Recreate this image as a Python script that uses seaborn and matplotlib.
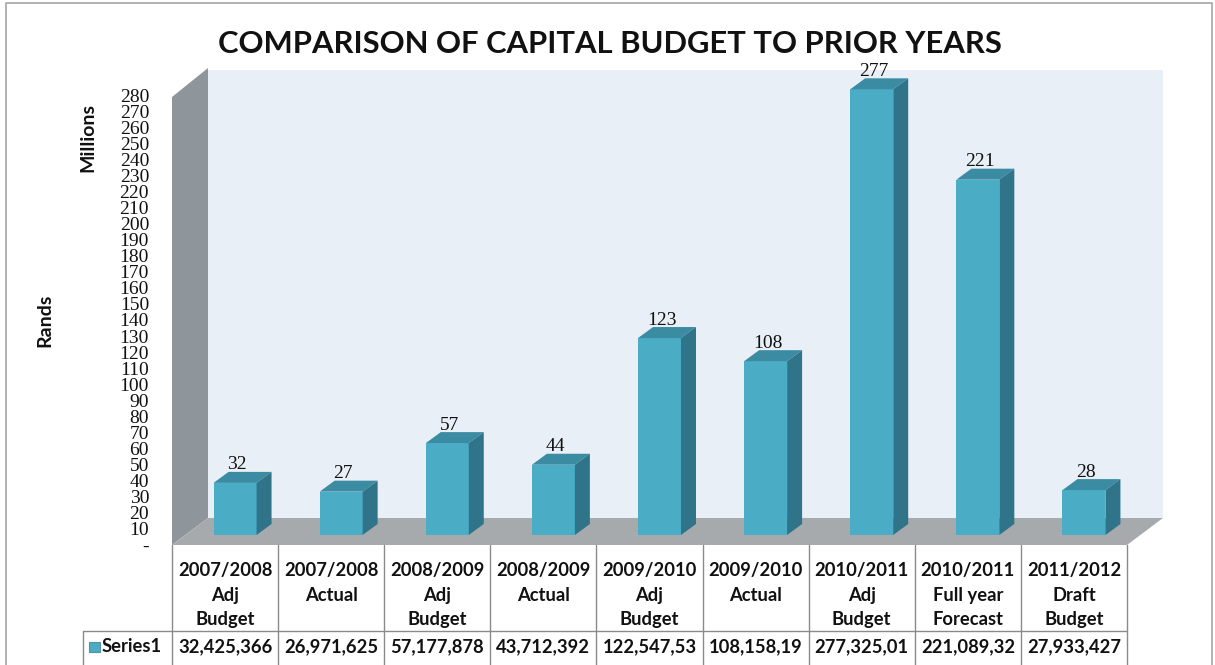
import matplotlib
matplotlib.use("Agg")
import matplotlib.pyplot as plt
from matplotlib.patches import Polygon, Rectangle
from matplotlib.transforms import IdentityTransform
import pandas as pd
import seaborn as sns

# ---- data -------------------------------------------------------------
categories = [
    "2007/2008\nAdj\nBudget", "2007/2008\nActual", "2008/2009\nAdj\nBudget",
    "2008/2009\nActual", "2009/2010\nAdj\nBudget", "2009/2010\nActual",
    "2010/2011\nAdj\nBudget", "2010/2011\nFull year\nForecast",
    "2011/2012\nDraft\nBudget",
]
capital_millions = [32.425366, 26.971625, 57.177878, 43.712392, 122.54753,
                    108.15819, 277.32501, 221.08932, 27.933427]
table_values = ["32,425,366", "26,971,625", "57,177,878", "43,712,392",
                "122,547,53", "108,158,19", "277,325,01", "221,089,32",
                "27,933,427"]
series_name = "Series1"
y_ticks = list(range(0, 290, 10))
y_tick_labels = ["-"] + [str(t) for t in y_ticks[1:]]
title = "COMPARISON OF CAPITAL BUDGET TO PRIOR YEARS"

# ---- style ------------------------------------------------------------
sns.set_theme(style="white")
plt.rcParams["font.family"] = ["Lato", "DejaVu Sans"]

FRONT = "#4BACC6"
TOP = "#3B8CA3"
SIDE = "#2F7489"
BACK_WALL = "#E9EFF7"
SIDE_WALL = "#8E969B"
FLOOR = "#A7AAAD"
GRID = "#8A8A8A"
TXT = "#111111"

W, H = 1215, 665
DPI = 100
fig = plt.figure(figsize=(W / DPI, H / DPI), dpi=DPI, facecolor="white")

# pixel layout (origin top-left)
FRONT_L, FRONT_R = 172, 1127
COL_W = (FRONT_R - FRONT_L) / len(categories)
FLOOR_FRONT = 545
WALL_DX, WALL_DY = 36, 27
BAR_BASE = 535
PLOT_H = 450
BAR_DX, BAR_DY = 15, 11


def fig_rect(left, top, width, height):
    return [left / W, (H - top - height) / H, width / W, height / H]


# background layer: walls, floor, table, labels
bg = fig.add_axes([0, 0, 1, 1], zorder=0)
bg.set_xlim(0, W)
bg.set_ylim(H, 0)
bg.axis("off")

# outer chart border
bg.plot([6, 6, 1212, 1212], [H, 3, 3, H], color="#A6A6A6", lw=1.2)

top_front = FLOOR_FRONT - PLOT_H
bg.add_patch(Rectangle((FRONT_L + WALL_DX, top_front - WALL_DY + 2),
                       FRONT_R - FRONT_L, PLOT_H - 2,
                       facecolor=BACK_WALL, edgecolor="none"))
bg.add_patch(Polygon([(FRONT_L, FLOOR_FRONT), (FRONT_L, top_front + 2),
                      (FRONT_L + WALL_DX, top_front - WALL_DY),
                      (FRONT_L + WALL_DX, FLOOR_FRONT - WALL_DY)],
                     facecolor=SIDE_WALL, edgecolor="none"))
bg.add_patch(Polygon([(FRONT_L, FLOOR_FRONT), (FRONT_R, FLOOR_FRONT),
                      (FRONT_R + WALL_DX, FLOOR_FRONT - WALL_DY),
                      (FRONT_L + WALL_DX, FLOOR_FRONT - WALL_DY)],
                     facecolor=FLOOR, edgecolor="none"))

# data table
ROW_SPLIT = 631
for k in range(len(categories) + 1):
    x = FRONT_L + k * COL_W
    bg.plot([x, x], [FLOOR_FRONT, H], color=GRID, lw=1)
bg.plot([83, FRONT_R], [ROW_SPLIT, ROW_SPLIT], color=GRID, lw=1)
bg.plot([83, 83], [ROW_SPLIT, H], color=GRID, lw=1)

table_font = dict(fontsize=13.2, fontweight="bold", color=TXT)
for i, (cat, val) in enumerate(zip(categories, table_values)):
    cx = FRONT_L + (i + 0.5) * COL_W
    bg.text(cx, 562, cat, ha="center", va="top", linespacing=1.55,
            **table_font)
    bg.text(cx, 647, val, ha="center", va="center", **table_font)
bg.add_patch(Rectangle((89, 642), 11, 10, facecolor=FRONT,
                       edgecolor="#5A8FA0", lw=0.8))
bg.text(102, 647, series_name, ha="left", va="center", **table_font)

bg.text(610, 44, title, ha="center", va="center", fontsize=22.3,
        fontweight="bold", color=TXT)
bg.text(88, 137, "Millions", rotation=90, ha="center", va="center",
        fontsize=14, fontweight="bold", color=TXT)

# value axis drawn on the front plane of the box
tick_ax = fig.add_axes(fig_rect(FRONT_L, FLOOR_FRONT - PLOT_H, 10, PLOT_H),
                       zorder=1)
tick_ax.set_facecolor("none")
tick_ax.set_ylim(0, 280)
tick_ax.set_yticks(y_ticks)
tick_ax.set_yticklabels(y_tick_labels, family=["Liberation Serif"],
                        fontsize=14, color=TXT)
tick_ax.tick_params(axis="y", length=0, pad=16.5)
tick_ax.set_xticks([])
for s in tick_ax.spines.values():
    s.set_visible(False)
tick_ax.set_ylabel("Rands", fontsize=14, fontweight="bold", color=TXT,
                   labelpad=48)

# bars, front faces drawn by seaborn
ax = fig.add_axes(fig_rect(FRONT_L + 10, BAR_BASE - PLOT_H,
                           FRONT_R - FRONT_L, PLOT_H), zorder=2)
ax.set_facecolor("none")
df = pd.DataFrame({"period": categories, "capital": capital_millions})
sns.barplot(data=df, x="period", y="capital", order=categories, ax=ax,
            color=FRONT, saturation=1, width=0.405, edgecolor="none",
            linewidth=0)
ax.set_xlim(-0.5, len(categories) - 0.5)
ax.set_ylim(0, 280)
ax.axis("off")

# top and side faces plus value labels
for p, v in zip(ax.patches, capital_millions):
    x0, y0 = ax.transData.transform((p.get_x(), 0))
    x1, y1 = ax.transData.transform((p.get_x() + p.get_width(), p.get_height()))
    top = [(x0, y1), (x1, y1), (x1 + BAR_DX, y1 + BAR_DY), (x0 + BAR_DX, y1 + BAR_DY)]
    side = [(x1, y0), (x1, y1), (x1 + BAR_DX, y1 + BAR_DY), (x1 + BAR_DX, y0 + BAR_DY)]
    ax.add_patch(Polygon(top, closed=True, transform=IdentityTransform(),
                         facecolor=TOP, edgecolor="none", clip_on=False))
    ax.add_patch(Polygon(side, closed=True, transform=IdentityTransform(),
                         facecolor=SIDE, edgecolor="none", clip_on=False))
    ax.annotate(f"{round(v)}", (p.get_x() + p.get_width() / 2, p.get_height()),
                xytext=(1.5, 9.7), textcoords="offset points", ha="center",
                va="baseline", fontsize=14, family=["Liberation Serif"],
                color=TXT, annotation_clip=False)

fig.savefig("out.png", dpi=DPI, facecolor="white")
